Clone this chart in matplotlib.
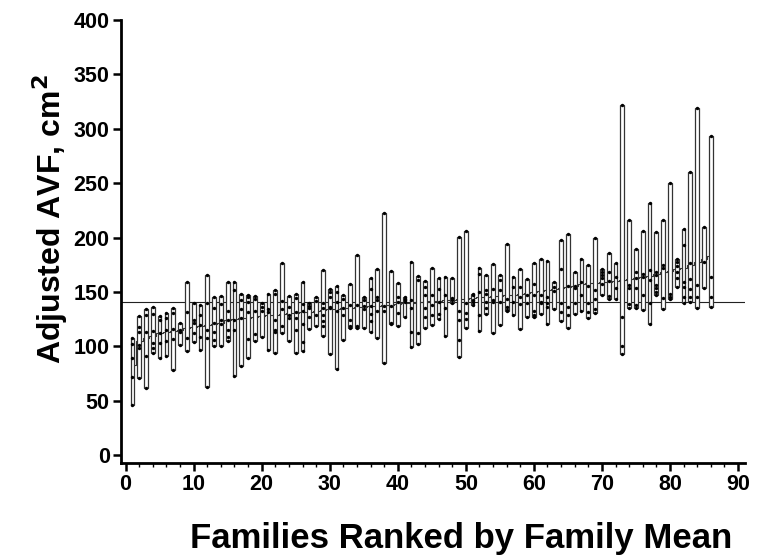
"""Families ranked by family mean: range bars with member values, family-mean line and overall mean."""
import matplotlib
matplotlib.use("Agg")
import matplotlib.pyplot as plt
import numpy as np

# family extremes, families 1..86 in rank order
FAM_MAX = [108, 128, 134.5, 136, 128, 131, 135.5, 122, 159, 140,
           138, 166, 145, 146, 159, 159, 148, 147, 146, 139.5,
           148.5, 151.7, 177, 146.5, 148, 159, 140, 145, 170, 153,
           156, 147.7, 157, 184, 145.5, 163, 171.6, 223, 169.5, 158,
           145.5, 177.8, 165, 160, 172, 163, 164, 163, 201, 206,
           148.6, 171.7, 165.5, 176, 165.5, 194.6, 164, 170.8, 162.4, 176.8,
           180.8, 178.4, 159.4, 197.7, 203, 168.5, 180, 174.6, 200, 171.6,
           186, 177, 322, 216, 189.4, 206, 231.4, 205.4, 216, 249.8,
           180.8, 207.5, 260, 318.8, 210, 293.6]
FAM_MIN = [46, 71, 62, 94, 89, 91, 78, 101.5, 95.5, 104,
           97, 63, 100, 100, 105, 72.6, 82, 89, 105, 109,
           96.5, 94.4, 112, 105, 94.4, 96, 116.4, 119, 110, 92.7,
           79.5, 106, 117, 116.5, 117, 113, 108, 85, 120.5, 118.6,
           127, 99.4, 102, 116.5, 119.6, 125, 110, 139.5, 90.5, 117,
           138, 114, 129.4, 112.6, 119.6, 132.4, 128.8, 116, 127, 127,
           130, 121, 134, 123, 116.5, 130, 133, 125.7, 131.2, 147,
           143.5, 144, 93, 135, 135, 133.3, 121, 147, 134, 143.2,
           154.8, 139.5, 141.1, 134.9, 153.9, 136.5]
# other members of each family
INNER = [[102, 89, 72], [118, 113, 101, 99], [129, 113, 91], [130, 114, 103, 99],
         [124, 112, 103], [126, 115, 105], [131, 116, 107], [115, 113],
         [132, 108], [124, 122, 112], [129, 120, 109], [140, 115, 108],
         [135, 121.5, 113, 106], [139, 124, 121], [133, 124, 115, 109], [152, 124, 115],
         [143, 134, 126], [145, 141, 132, 107], [144, 133, 111], [136, 133],
         [134, 132], [148.6, 124, 115, 113], [141.6, 134, 118.5], [136, 129, 126.6],
         [144.5, 131.8, 126.6, 115], [138.8, 133, 120.8, 104], [137, 135, 127], [142, 129],
         [139.5, 135, 128.7, 123.5, 118.5], [150, 145.5, 136, 135], [150, 141, 133],
         [144, 135, 128.7], [137.7, 124.5, 119], [137.7, 119], [142.5, 137, 134],
         [153, 137, 130, 123.5], [145, 143, 133], [137, 133], [137, 122],
         [145.5, 141, 131], [144, 142.5, 141], [142.5, 135, 113], [161, 112],
         [154.8, 147, 135, 127], [147, 138, 129], [153, 141, 130], [147, 135],
         [144.7, 142.5], [133, 124.7, 105.7], [139.5, 130.3, 125], [147, 142.5, 140.4],
         [167, 150, 129], [151.7, 148.6, 141, 135], [153, 142.5, 140.4], [161, 151.7, 141],
         [144, 136.5, 133.5], [154.8, 141], [154.8, 145.6, 138.6], [147, 139.5],
         [157, 147, 132.4, 128.8], [147.7, 141, 139.5], [145.6, 139.5, 136.5], [154.8, 150.8],
         [171, 139.5, 131.8], [156, 136.5, 128.8], [156, 153.5, 140], [159.4, 147],
         [156, 140, 131.8], [152, 143.5, 134.3], [168.5, 165.5, 163, 157.8], [168, 160, 146],
         [164, 154], [127, 100], [156.8, 154, 138.8], [168.5, 163, 154, 138],
         [167, 164, 147.4], [170, 161, 139.6], [168.5, 165.5, 156.3, 153.3, 150.2],
         [174.6, 172, 144.4], [148.4, 145.4], [177.7, 173.8, 168.5, 163],
         [193.7, 158.8, 154.8, 145.6], [177, 162.4, 153.2, 145.6], [156.3, 145.6],
         [177.7], [164, 145.6]]
FAM_MEAN = [83, 105, 108, 110, 112, 113, 114, 115, 117, 118,
            119, 120, 121, 122, 124, 125, 126, 126.5, 127, 128,
            128.5, 129, 130, 130.5, 131, 131.5, 132, 133, 133.5, 134,
            134.5, 135, 135.5, 136, 136.5, 137, 137.5, 138, 138.5, 139,
            139.5, 140, 140.5, 141, 141.5, 142, 142.5, 143, 143.5, 144,
            144.5, 145, 145.5, 146, 146.5, 147, 147.5, 148, 149, 150,
            151, 152, 153, 154, 155, 156, 157, 158, 158.5, 159,
            159.5, 160, 161, 162, 163, 164, 165, 166.5, 168, 169,
            171, 172, 175, 178, 180, 183]
OVERALL_MEAN = 141

FONTS = ["Liberation Sans", "DejaVu Sans"]


def main():
    fam = np.arange(1, len(FAM_MAX) + 1)
    lo = np.array(FAM_MIN)
    hi = np.array(FAM_MAX)

    fig = plt.figure(figsize=(7.6, 5.57), dpi=100)
    ax = fig.add_axes([0.159, 0.169, 0.821, 0.795])

    ax.axhline(OVERALL_MEAN, color="#222222", lw=0.8, zorder=1)
    ax.plot(fam, FAM_MEAN, drawstyle="steps-mid", color="#333333", lw=0.8, zorder=2)
    ax.bar(fam, hi - lo, bottom=lo, width=0.55, color="white",
           edgecolor="#333333", linewidth=0.9, zorder=3)

    # every member as a dot: ends of bars plus the inner ones
    xs, ys = [], []
    for i, inner in enumerate(INNER):
        for v in [FAM_MIN[i], FAM_MAX[i]] + inner:
            xs.append(fam[i])
            ys.append(v)
    ax.scatter(xs, ys, s=6, color="black", zorder=4, linewidths=0)

    ax.set_xlim(-0.7, 91)
    ax.set_ylim(-7, 400)
    ax.set_xticks(np.arange(0, 91, 10))
    ax.set_xticks(np.arange(0, 91, 2), minor=True)
    ax.set_yticks(np.arange(0, 401, 50))
    for s in ("top", "right"):
        ax.spines[s].set_visible(False)
    for s in ("left", "bottom"):
        ax.spines[s].set_linewidth(2.0)
    ax.tick_params(which="major", length=6, width=1.8, direction="out", pad=2)
    ax.tick_params(which="minor", axis="x", length=3, width=1.0)
    for lab in ax.get_xticklabels() + ax.get_yticklabels():
        lab.set_fontsize(15.5)
        lab.set_fontweight("bold")
        lab.set_family(FONTS)

    ax.set_ylabel("Adjusted AVF, cm$^\\mathbf{2}$", fontsize=23,
                  family=FONTS, fontweight="bold", va="center")
    ax.yaxis.set_label_coords(-0.114, 0.55)
    fig.text(0.607, 0.003, "Families Ranked by Family Mean", ha="center",
             va="bottom", fontsize=25, family=FONTS, fontweight="bold")

    fig.savefig("out.png", dpi=100)
    plt.close(fig)


if __name__ == "__main__":
    main()
